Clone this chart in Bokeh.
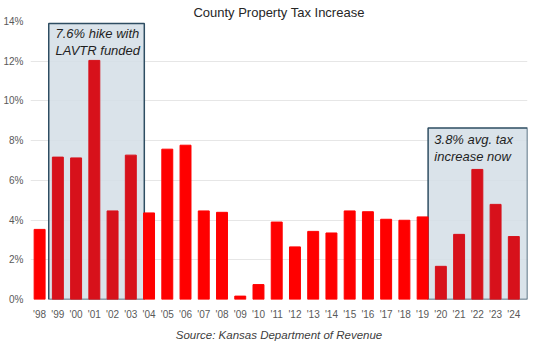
from bokeh.plotting import figure
from bokeh.models import FixedTicker, PrintfTickFormatter, Title, ColumnDataSource
from bokeh.core.properties import value
from bokeh.embed import file_html
from bokeh.resources import INLINE

years = ["'98", "'99", "'00", "'01", "'02", "'03", "'04", "'05", "'06", "'07", "'08", "'09", "'10",
         "'11", "'12", "'13", "'14", "'15", "'16", "'17", "'18", "'19", "'20", "'21", "'22", "'23", "'24"]
increase = [3.53, 7.17, 7.13, 12.04, 4.46, 7.27, 4.36, 7.57, 7.77, 4.46, 4.39, 0.17, 0.75,
            3.90, 2.65, 3.43, 3.35, 4.46, 4.42, 4.04, 3.99, 4.16, 1.67, 3.28, 6.55, 4.79, 3.17]
highlighted = ["'99", "'00", "'01", "'02", "'03", "'20", "'21", "'22", "'23", "'24"]
y_ticks = [0, 2, 4, 6, 8, 10, 12, 14]

FONT = "Liberation Sans"
idx = list(range(len(years)))
colors = ["#d7111b" if y in highlighted else "#ff0000" for y in years]

p = figure(width=540, height=347, output_backend="svg", toolbar_location=None,
           x_range=(-0.5, 26.75), y_range=(0, 14),
           min_border_left=28, min_border_right=13, min_border_top=21, min_border_bottom=48)
p.outline_line_color = None
p.xgrid.grid_line_color = None
p.ygrid.grid_line_color = "#e6e6e6"
p.ygrid.grid_line_width = 1

p.title.text = "County Property Tax Increase"
p.title.align = "center"
p.title.text_font = FONT
p.title.text_font_size = "13px"
p.title.text_font_style = "normal"
p.title.text_color = "#262626"
p.title.standoff = 3
p.title.offset = 5

# highlight boxes
boxes = ColumnDataSource(dict(left=[0.5, 21.3], right=[5.74, 26.75], top=[13.9, 8.64], bottom=[0, 0]))
p.quad(left="left", right="right", top="top", bottom="bottom", source=boxes,
       fill_color="#d3dee6", fill_alpha=0.85, line_color="#2e4d62", line_width=1.5)

src = ColumnDataSource(dict(x=idx, top=increase, color=colors))
p.vbar(x="x", top="top", width=0.6, color="color", source=src)

p.text(x=[0.87, 0.87], y=[13.40, 12.54], text=["7.6% hike with", "LAVTR funded"],
       text_font=value(FONT), text_font_style="italic", text_font_size="13px",
       text_color="#1f1f1f", text_baseline="middle", text_align="left")
p.text(x=[21.64, 21.64], y=[8.06, 7.20], text=["3.8% avg. tax", "increase now"],
       text_font=value(FONT), text_font_style="italic", text_font_size="13px",
       text_color="#1f1f1f", text_baseline="middle", text_align="left")

p.xaxis.ticker = FixedTicker(ticks=idx)
p.xaxis.major_label_overrides = {i: y for i, y in zip(idx, years)}
p.yaxis.ticker = FixedTicker(ticks=y_ticks)
p.yaxis.formatter = PrintfTickFormatter(format="%d%%")
for ax in (p.xaxis, p.yaxis):
    ax.axis_line_color = None
    ax.major_tick_line_color = None
    ax.minor_tick_line_color = None
    ax.major_tick_out = 0
    ax.major_label_text_font = FONT
    ax.major_label_text_font_size = "10px"
    ax.major_label_text_color = "#595959"
p.xaxis.major_label_standoff = 9
p.yaxis.major_label_standoff = 7

source_title = Title(text="Source: Kansas Department of Revenue", align="center",
                     text_font=FONT, text_font_style="italic", text_font_size="11.5px",
                     text_color="#404040", standoff=8, offset=8)
p.add_layout(source_title, "below")

open("out.html", "w").write(file_html(p, INLINE))
